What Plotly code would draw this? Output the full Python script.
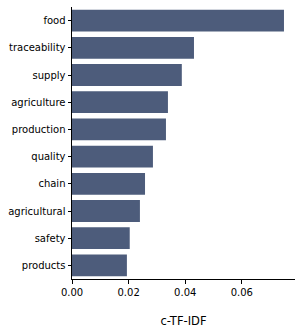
import plotly.graph_objects as go

words = ["food", "traceability", "supply", "agriculture", "production",
         "quality", "chain", "agricultural", "safety", "products"]
scores = [0.0749, 0.0431, 0.0388, 0.0339, 0.0332,
          0.0286, 0.0258, 0.0240, 0.0204, 0.0194]
x_ticks = [0.00, 0.02, 0.04, 0.06]
x_tick_labels = ["0.00", "0.02", "0.04", "0.06"]

fig = go.Figure(go.Bar(
    x=scores, y=words, orientation="h",
    marker=dict(color="#4d5c7b", line=dict(width=0)),
    width=0.8,
    hoverinfo="skip",
))

font = dict(family="DejaVu Sans", size=10, color="#000000")
fig.update_layout(
    width=302, height=336,
    margin=dict(l=72, r=7, t=7, b=57, autoexpand=False),
    plot_bgcolor="white", paper_bgcolor="white",
    font=font,
    showlegend=False,
    bargap=0.2,
)
fig.update_xaxes(
    range=[0, max(scores) * 1.052],
    tickvals=x_ticks, ticktext=x_tick_labels,
    showline=True, linecolor="black", linewidth=1,
    ticks="outside", ticklen=3.5, tickcolor="black", tickwidth=1,
    showgrid=False, zeroline=False, automargin=False,
    title=dict(text="c-TF-IDF", font=dict(family="DejaVu Sans", size=11.5, color="#000000"), standoff=20),
)
fig.update_yaxes(
    categoryorder="array", categoryarray=words[::-1],
    range=[-0.5, len(words) - 0.5],
    showline=True, linecolor="black", linewidth=1,
    ticks="outside", ticklen=3.5, tickcolor="black", tickwidth=1,
    showgrid=False, zeroline=False, automargin=False,
)
fig.write_html(
    "out.html",
    config={"displayModeBar": False, "staticPlot": True},
    post_script="document.body.style.margin='0';document.body.style.overflow='hidden';",
)
